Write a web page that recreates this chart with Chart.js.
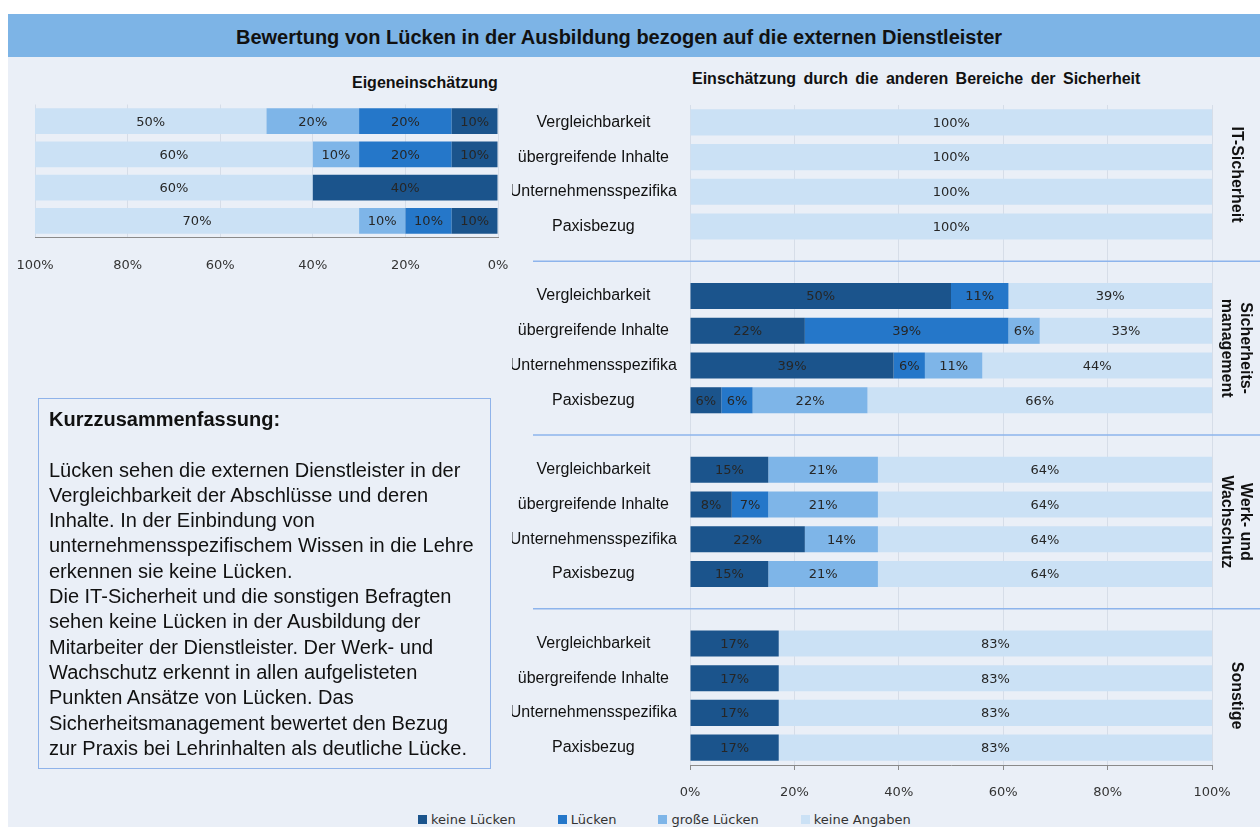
<!DOCTYPE html>
<html lang="de">
<head>
<meta charset="utf-8">
<title>Bewertung von Lücken in der Ausbildung</title>
<script src="https://cdn.jsdelivr.net/npm/chart.js@4.4.1/dist/chart.umd.min.js"></script>
<style>
  body { margin: 0; width: 1260px; height: 827px; overflow: hidden; background: #fff;
         font-family: "Liberation Sans", Arial, sans-serif; color: #111; }
  #panel { position: absolute; left: 8px; top: 14px; width: 1252px; height: 813px; background: #eaeff7; }
  #titlebar { position: absolute; left: 8px; top: 14px; width: 1252px; height: 43px; background: #7db4e6; }
  #title { position: absolute; left: 236px; top: 16px; line-height: 43px; font-size: 20px; font-weight: bold; white-space: nowrap; }
  .sub { position: absolute; font-size: 16px; font-weight: bold; white-space: nowrap; word-spacing: 3px; }
  #selfWrap { position: absolute; left: 0; top: 95px; width: 520px; height: 178px; }
  #otherWrap { position: absolute; left: 480px; top: 95px; width: 780px; height: 706px; }
  #summary { position: absolute; left: 38px; top: 398px; width: 453px; height: 371px; border: 1px solid #8fb3ea;
             padding: 8px 0 0 10px; box-sizing: border-box; font-size: 20px; line-height: 25.3px; white-space: nowrap; }
  #summary b { display: block; margin-bottom: 25.3px; }
  #legend { position: absolute; left: 418px; top: 812px; display: flex; gap: 42px; font-family: "DejaVu Sans", sans-serif;
            font-size: 13px; color: #333; white-space: nowrap; }
  #legend span.sw { display: inline-block; width: 9px; height: 9px; margin-right: 4px; }
</style>
</head>
<body>
<div id="panel"></div>
<div id="titlebar"></div>
<div id="title">Bewertung von Lücken in der Ausbildung bezogen auf die externen Dienstleister</div>
<div class="sub" style="left:352px; top:74px;">Eigeneinschätzung</div>
<div class="sub" style="left:692px; top:70px;">Einschätzung durch die anderen Bereiche der Sicherheit</div>

<div id="selfWrap"><canvas id="selfChart"></canvas></div>
<div id="otherWrap"><canvas id="otherChart"></canvas></div>

<div id="summary">
  <b>Kurzzusammenfassung:</b>
  Lücken sehen die externen Dienstleister in der<br>
  Vergleichbarkeit der Abschlüsse und deren<br>
  Inhalte. In der Einbindung von<br>
  unternehmensspezifischem Wissen in die Lehre<br>
  erkennen sie keine Lücken.<br>
  Die IT-Sicherheit und die sonstigen Befragten<br>
  sehen keine Lücken in der Ausbildung der<br>
  Mitarbeiter der Dienstleister. Der Werk- und<br>
  Wachschutz erkennt in allen aufgelisteten<br>
  Punkten Ansätze von Lücken. Das<br>
  Sicherheitsmanagement bewertet den Bezug<br>
  zur Praxis bei Lehrinhalten als deutliche Lücke.
</div>

<div id="legend"></div>

<script>
const topics = ['Vergleichbarkeit', 'übergreifende Inhalte', 'Unternehmensspezifika', 'Paxisbezug'];
const groups = ['IT-Sicherheit', 'Sicherheits-\nmanagement', 'Werk- und\nWachschutz', 'Sonstige'];
const ratings = ['keine Lücken', 'Lücken', 'große Lücken', 'keine Angaben'];
const ratingColors = ['#1b548c', '#2577c9', '#7eb5e8', '#cbe1f5'];

// Eigeneinschätzung (one row per topic)
const selfNoGaps   = [10, 10, 40, 10];
const selfGaps     = [20, 20, 0, 10];
const selfBigGaps  = [20, 10, 0, 10];
const selfNoAnswer = [50, 60, 60, 70];

// other areas: IT-Sicherheit, Sicherheitsmanagement, Werk- und Wachschutz, Sonstige (4 topics each)
const otherNoGaps   = [0, 0, 0, 0,   50, 22, 39, 6,   15, 8, 22, 15,   17, 17, 17, 17];
const otherGaps     = [0, 0, 0, 0,   11, 39, 6, 6,    0, 7, 0, 0,      0, 0, 0, 0];
const otherBigGaps  = [0, 0, 0, 0,   0, 6, 11, 22,    21, 21, 14, 21,  0, 0, 0, 0];
const otherNoAnswer = [100, 100, 100, 100,  39, 33, 44, 66,  64, 64, 64, 64,  83, 83, 83, 83];

const percentTicks = [0, 20, 40, 60, 80, 100];

// put an empty row between the groups
function spaced(values, blank) {
    const out = [];
    values.forEach((v, i) => {
        if (i > 0 && i % topics.length === 0) out.push(blank);
        out.push(v);
    });
    return out;
}

const otherLabels = spaced(groups.flatMap(() => topics), '');

const tickFont = { family: 'DejaVu Sans', size: 13 };

const barValueLabels = {
    id: 'barValueLabels',
    afterDatasetsDraw(chart) {
        const ctx = chart.ctx;
        ctx.save();
        ctx.font = '13px "DejaVu Sans"';
        ctx.fillStyle = '#262626';
        ctx.textAlign = 'center';
        ctx.textBaseline = 'middle';
        chart.data.datasets.forEach((ds, i) => {
            chart.getDatasetMeta(i).data.forEach((bar, j) => {
                const v = ds.data[j];
                if (!v) return;
                ctx.fillText(v + '%', (bar.x + bar.base) / 2, bar.y + 1);
            });
        });
        ctx.restore();
    }
};

const groupMarks = {
    id: 'groupMarks',
    afterDraw(chart) {
        const { ctx, chartArea, scales: { y } } = chart;
        const step = topics.length + 1;
        ctx.save();
        ctx.strokeStyle = '#8db4ec';
        ctx.lineWidth = 1.5;
        ctx.fillStyle = '#111';
        ctx.font = 'bold 16px "Liberation Sans"';
        ctx.textAlign = 'center';
        ctx.textBaseline = 'middle';
        groups.forEach((name, k) => {
            const first = k * step;
            if (k > 0) {
                const sy = y.getPixelForValue(first - 1);
                ctx.beginPath();
                ctx.moveTo(53, sy);
                ctx.lineTo(chart.width, sy);
                ctx.stroke();
            }
            const cy = (y.getPixelForValue(first) + y.getPixelForValue(first + topics.length - 1)) / 2;
            const lines = name.split('\n');
            ctx.save();
            ctx.translate(chartArea.right + 24, cy);
            ctx.rotate(Math.PI / 2);
            lines.forEach((line, n) => {
                ctx.fillText(line, 0, (n - (lines.length - 1) / 2) * 19);
            });
            ctx.restore();
        });
        ctx.restore();
    }
};

const htmlLegend = {
    id: 'htmlLegend',
    afterUpdate(chart) {
        const box = document.getElementById('legend');
        box.innerHTML = '';
        chart.options.plugins.legend.labels.generateLabels(chart).forEach((item) => {
            const entry = document.createElement('div');
            const sw = document.createElement('span');
            sw.className = 'sw';
            sw.style.background = item.fillStyle;
            entry.appendChild(sw);
            entry.appendChild(document.createTextNode(item.text));
            box.appendChild(entry);
        });
    }
};

function datasets(series) {
    return series.map((data, i) => ({
        label: ratings[i],
        data: data,
        backgroundColor: ratingColors[i],
        borderWidth: 0,
    }));
}

// left: Eigeneinschätzung, axis runs from 100% to 0%
new Chart(document.getElementById('selfChart'), {
    type: 'bar',
    data: {
        labels: topics,
        datasets: datasets([selfNoGaps, selfGaps, selfBigGaps, selfNoAnswer]),
    },
    options: {
        indexAxis: 'y',
        responsive: true,
        maintainAspectRatio: false,
        animation: false,
        layout: { padding: { left: 35, right: 22, top: 9.5, bottom: 0 } },
        datasets: { bar: { barPercentage: 0.77, categoryPercentage: 1 } },
        plugins: { legend: { display: false }, tooltip: { enabled: false } },
        scales: {
            x: {
                stacked: true,
                reverse: true,
                min: 0,
                max: 100,
                afterBuildTicks: (axis) => { axis.ticks = percentTicks.map((v) => ({ value: v })); },
                afterFit: (axis) => { axis.height = 35.5; },
                ticks: { font: tickFont, color: '#333', padding: 20, maxRotation: 0, callback: (v) => v + '%' },
                grid: { color: '#d6dde8', drawTicks: false },
                border: { color: '#8a8a8a' },
            },
            y: { stacked: true, display: false },
        },
    },
    plugins: [barValueLabels],
});

// right: Einschätzung durch die anderen Bereiche
new Chart(document.getElementById('otherChart'), {
    type: 'bar',
    data: {
        labels: otherLabels,
        datasets: datasets([otherNoGaps, otherGaps, otherBigGaps, otherNoAnswer].map((s) => spaced(s, null))),
    },
    options: {
        indexAxis: 'y',
        responsive: true,
        maintainAspectRatio: false,
        animation: false,
        layout: { padding: { left: 32, right: 48, top: 10, bottom: 0 } },
        datasets: { bar: { barPercentage: 0.75, categoryPercentage: 1 } },
        plugins: { legend: { display: false }, tooltip: { enabled: false } },
        scales: {
            x: {
                stacked: true,
                min: 0,
                max: 100,
                afterBuildTicks: (axis) => { axis.ticks = percentTicks.map((v) => ({ value: v })); },
                afterFit: (axis) => { axis.height = 36; },
                ticks: { font: tickFont, color: '#333', padding: 15, maxRotation: 0, callback: (v) => v + '%' },
                grid: { color: '#d6dde8', tickColor: '#8a8a8a', tickLength: 5 },
                border: { color: '#8a8a8a' },
            },
            y: {
                stacked: true,
                afterFit: (axis) => { axis.width = 178; axis.paddingTop = 0; axis.paddingBottom = 0; },
                ticks: { font: { family: 'Liberation Sans', size: 16 }, color: '#111', crossAlign: 'center',
                         padding: 5, autoSkip: false },
                grid: { display: false },
                border: { display: false },
            },
        },
    },
    plugins: [barValueLabels, groupMarks, htmlLegend],
});
</script>
</body>
</html>
